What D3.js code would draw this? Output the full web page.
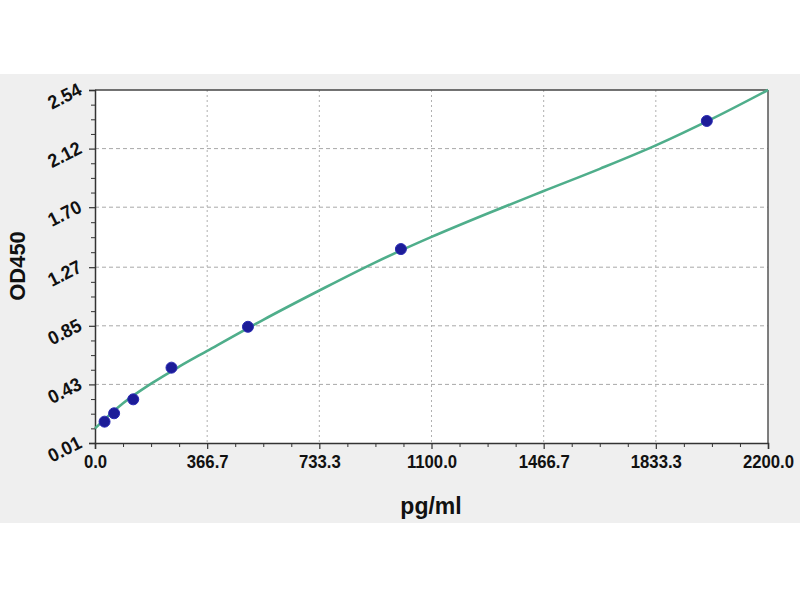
<!DOCTYPE html>
<html>
<head>
<meta charset="utf-8">
<script src="https://cdn.jsdelivr.net/npm/d3@7"></script>
<style>
  html, body { margin: 0; padding: 0; background: #ffffff; }
  svg { display: block; }
  text { font-family: Arial, "Liberation Sans", sans-serif; font-weight: bold; fill: #111; }
</style>
</head>
<body>
<svg id="chart" width="800" height="600"></svg>
<script>
// ---- data ----
const concentrations = [31.25, 62.5, 125, 250, 500, 1000, 2000];
const odValues = [0.163, 0.223, 0.323, 0.550, 0.843, 1.400, 2.318];

// fitted standard curve
const curveX = [0, 91.7, 183.3, 275, 366.7, 550, 733.3, 916.7, 1100, 1283.3, 1466.7, 1650, 1833.3, 2016.7, 2200];
const curveY = [0.115, 0.295, 0.435, 0.557, 0.670, 0.893, 1.103, 1.305, 1.487, 1.655, 1.816, 1.975, 2.143, 2.333, 2.540];

const xTickValues = [0, 366.7, 733.3, 1100, 1466.7, 1833.3, 2200];
const xTickLabels = ["0.0", "366.7", "733.3", "1100.0", "1466.7", "1833.3", "2200.0"];
const yTickValues = [0.01, 0.43, 0.85, 1.27, 1.70, 2.12, 2.54];
const yTickLabels = ["0.01", "0.43", "0.85", "1.27", "1.70", "2.12", "2.54"];

const xTitle = "pg/ml";
const yTitle = "OD450";

// ---- layout ----
const svg = d3.select("#chart");
const L = 95, R = 768, T = 90, B = 443;

const x = d3.scaleLinear().domain([0, 2200]).range([L, R]);
const y = d3.scaleLinear().domain([0.01, 2.54]).range([B, T]);

// gray background band
svg.append("rect").attr("x", 0).attr("y", 74).attr("width", 800).attr("height", 449).attr("fill", "#efefef");
// plot area
svg.append("rect").attr("x", L).attr("y", T).attr("width", R - L).attr("height", B - T).attr("fill", "#ffffff");

// minor tick values (4 subdivisions per major interval)
function minors(vals) {
  const out = [];
  for (let i = 0; i < vals.length - 1; i++) {
    for (let k = 1; k < 4; k++) out.push(vals[i] + (vals[i + 1] - vals[i]) * k / 4);
  }
  return out;
}

// grid
const grid = svg.append("g");
grid.selectAll("line.h").data(yTickValues.slice(1, -1)).enter().append("line")
  .attr("x1", L).attr("x2", R).attr("y1", d => y(d)).attr("y2", d => y(d))
  .attr("stroke", "#a8a8a8").attr("stroke-width", 1).attr("stroke-dasharray", "4,3");
grid.selectAll("line.v").data(xTickValues.slice(1, -1)).enter().append("line")
  .attr("x1", d => x(d)).attr("x2", d => x(d)).attr("y1", T).attr("y2", B)
  .attr("stroke", "#b0b0b0").attr("stroke-width", 1).attr("stroke-dasharray", "2,3");

// border (top, right)
svg.append("line").attr("x1", L).attr("x2", R).attr("y1", T).attr("y2", T).attr("stroke", "#444").attr("stroke-width", 1.5);
svg.append("line").attr("x1", R).attr("x2", R).attr("y1", T).attr("y2", B).attr("stroke", "#555").attr("stroke-width", 1.5);

// x axis
const xAxis = d3.axisBottom(x).tickValues(xTickValues).tickFormat((d, i) => xTickLabels[i]).tickSize(6).tickPadding(6);
const gx = svg.append("g").attr("transform", `translate(0,${B})`).call(xAxis);
gx.select(".domain").attr("stroke", "#333").attr("stroke-width", 1.5);
gx.selectAll(".tick line").attr("stroke", "#333").attr("stroke-width", 1.2);
gx.selectAll(".tick text").attr("font-size", 19).attr("font-family", "Arial, 'Liberation Sans', sans-serif")
  .attr("font-weight", "bold").attr("fill", "#111").attr("transform", "scale(0.88,1)");
svg.append("g").attr("transform", `translate(0,${B})`)
  .call(d3.axisBottom(x).tickValues(minors(xTickValues)).tickFormat("").tickSize(4))
  .call(g => g.select(".domain").remove())
  .selectAll(".tick line").attr("stroke", "#333").attr("stroke-width", 1);

// y axis
const yAxis = d3.axisLeft(y).tickValues(yTickValues).tickFormat("").tickSize(6);
const gy = svg.append("g").attr("transform", `translate(${L},0)`).call(yAxis);
gy.select(".domain").attr("stroke", "#333").attr("stroke-width", 1.5);
gy.selectAll(".tick line").attr("stroke", "#333").attr("stroke-width", 1.2);
svg.append("g").attr("transform", `translate(${L},0)`)
  .call(d3.axisLeft(y).tickValues(minors(yTickValues)).tickFormat("").tickSize(4))
  .call(g => g.select(".domain").remove())
  .selectAll(".tick line").attr("stroke", "#333").attr("stroke-width", 1);

// slanted y tick labels
svg.append("g").selectAll("text").data(yTickValues).enter().append("text")
  .attr("transform", d => `translate(${L - 12},${y(d) + 4}) rotate(-27) scale(0.94,1)`)
  .attr("text-anchor", "end")
  .attr("font-size", 19)
  .text((d, i) => yTickLabels[i]);

// standard curve
const line = d3.line().x(d => x(d[0])).y(d => y(d[1])).curve(d3.curveMonotoneX);
svg.append("path").datum(curveX.map((v, i) => [v, curveY[i]]))
  .attr("d", line).attr("fill", "none").attr("stroke", "#4fae8b").attr("stroke-width", 2.6)
  .attr("stroke-linejoin", "round");

// points
svg.append("g").selectAll("circle").data(concentrations.map((c, i) => [c, odValues[i]])).enter().append("circle")
  .attr("cx", d => x(d[0])).attr("cy", d => y(d[1])).attr("r", 5.5)
  .attr("fill", "#1c1c98").attr("stroke", "#2a2ab4").attr("stroke-width", 1);

// axis titles
svg.append("text").attr("x", 431).attr("y", 514).attr("text-anchor", "middle").attr("font-size", 23).text(xTitle);
svg.append("text").attr("transform", `translate(25,266) rotate(-90)`).attr("text-anchor", "middle").attr("font-size", 22).text(yTitle);
</script>
</body>
</html>
